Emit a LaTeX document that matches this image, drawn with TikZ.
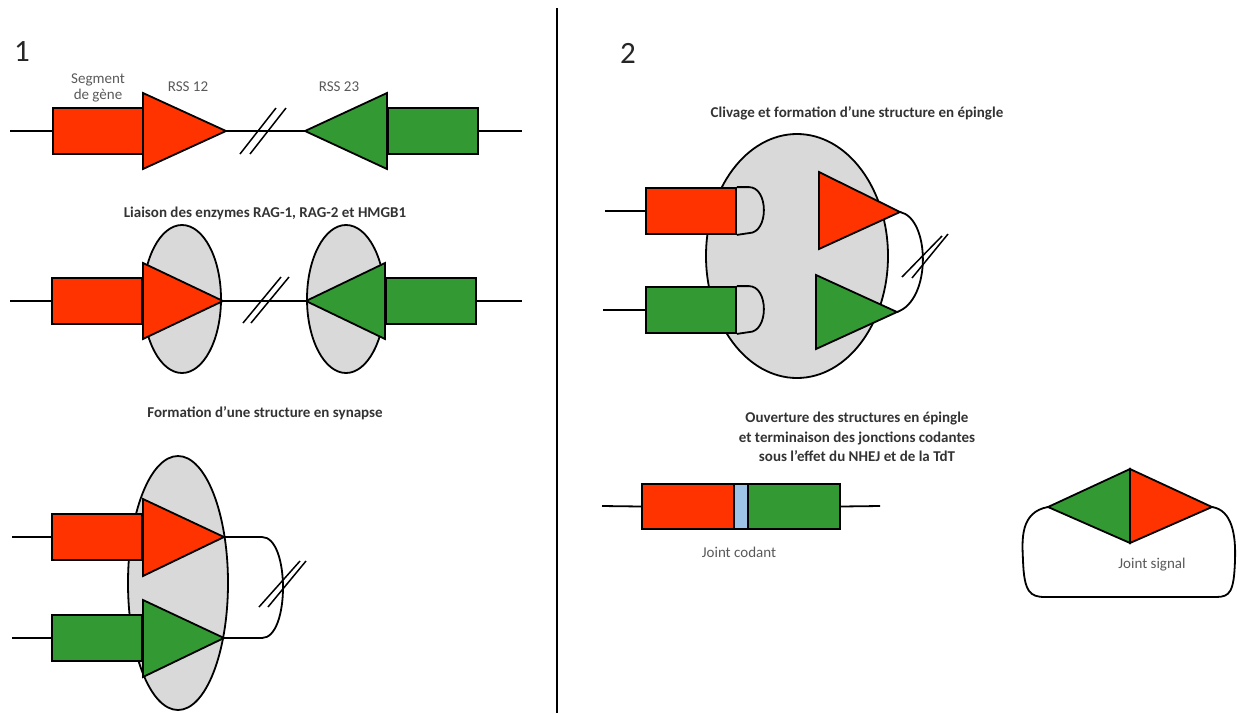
\documentclass[tikz,border=0pt]{standalone}
\usepackage{fontspec}
\setmainfont{Carlito}
\usetikzlibrary{shapes.geometric}

\definecolor{genred}{HTML}{FF3300}
\definecolor{gengreen}{HTML}{339933}
\definecolor{ragfill}{HTML}{D9D9D9}
\definecolor{jointblue}{HTML}{9DC3E6}
\definecolor{labelgray}{HTML}{595959}

\tikzstyle{dna} = [line width=1.8pt]
\tikzstyle{seg} = [draw, line width=1.8pt, inner sep=0pt, minimum width=90pt, minimum height=46pt]
\tikzstyle{rss} = [draw, line width=1.8pt, line join=miter]
\tikzstyle{rag} = [draw, ellipse, fill=ragfill, line width=1.8pt, inner sep=0pt]
\tikzstyle{brk} = [line width=1.5pt]
\tikzstyle{lbl} = [text=labelgray, font=\fontsize{15}{16}\selectfont, inner sep=0pt, align=center]
\tikzstyle{titre} = [text=black!80, font=\bfseries\fontsize{15}{19.5}\selectfont, inner sep=0pt, align=center]
\tikzstyle{num} = [text=black!85, font=\fontsize{31}{31}\selectfont, inner sep=0pt]

\begin{document}
\begin{tikzpicture}[x=1pt, y=-1pt]
    \useasboundingbox (0,0) rectangle (1237,713);
    \draw[line width=2.5pt] (557,8) -- (557,713);

    % 1
    \node[num] (N1) at (22,52) {1};
    \node[lbl] (Lseg) at (98,88) {Segment\\de gène};
    \node[lbl] (Lrss12) at (188,87) {RSS 12};
    \node[lbl] (Lrss23) at (339,87) {RSS 23};
    \coordinate (A1) at (10,131);
    \coordinate (B1) at (522,131);
    \node[seg, fill=genred] (R1) at (98,131) {};
    \node[seg, fill=gengreen] (G1) at (433,131) {};
    \draw[rss, fill=genred] (143,93) -- (143,169) -- (226,131) coordinate (P1) -- cycle;
    \draw[rss, fill=gengreen] (387,93) -- (387,169) -- (305,131) coordinate (Q1) -- cycle;
    \draw[dna] (A1) -- (R1.west);
    \draw[dna] (P1) -- (Q1);
    \draw[dna] (G1.east) -- (B1);
    \draw[brk] (240,154) -- (276,108);
    \draw[brk] (250,154) -- (286,108);

    \node[titre] (T2) at (265,213) {Liaison des enzymes RAG-1, RAG-2 et HMGB1};
    \coordinate (A2) at (10,301);
    \coordinate (B2) at (522,301);
    \node[rag, minimum width=78pt, minimum height=148pt] (E2a) at (182,299) {};
    \node[rag, minimum width=78pt, minimum height=148pt] (E2b) at (346,299) {};
    \node[seg, fill=genred] (R2) at (97,301) {};
    \node[seg, fill=gengreen] (G2) at (431,301) {};
    \draw[rss, fill=genred] (143,263) -- (143,339) -- (223,301) coordinate (P2) -- cycle;
    \draw[rss, fill=gengreen] (385,263) -- (385,339) -- (306,301) coordinate (Q2) -- cycle;
    \draw[dna] (A2) -- (R2.west);
    \draw[dna] (P2) -- (Q2);
    \draw[dna] (G2.east) -- (B2);
    \draw[brk] (243,323) -- (281,277);
    \draw[brk] (251,323) -- (289,277);

    \node[titre] (T3) at (265,413) {Formation d’une structure en synapse};
    \coordinate (A3) at (12,537);
    \coordinate (B3) at (12,638);
    \node[rag, minimum width=100pt, minimum height=254pt] (E3) at (178,583) {};
    \node[seg, fill=genred] (R3) at (97,537) {};
    \node[seg, fill=gengreen] (G3) at (97,638) {};
    \draw[rss, fill=genred] (143,499) -- (143,576) -- (224,537) coordinate (P3) -- cycle;
    \draw[rss, fill=gengreen] (143,600) -- (143,677) -- (224,638) coordinate (Q3) -- cycle;
    \draw[dna] (A3) -- (R3.west);
    \draw[dna] (B3) -- (G3.west);
    \draw[dna] (P3) -- (262,537) .. controls (290,537) and (290,638) .. (262,638) -- (Q3);
    \draw[brk] (259,607) -- (300,561);
    \draw[brk] (268,607) -- (306,561);

    % 2
    \node[num] (N2) at (628,53) {2};
    \node[titre] (T4) at (857,113) {Clivage et formation d’une structure en épingle};
    \coordinate (A4) at (605,211);
    \coordinate (B4) at (603,310);
    \node[rag, minimum width=182pt, minimum height=244pt] (E4) at (797,256) {};
    \node[seg, fill=genred] (R4) at (691,211) {};
    \node[seg, fill=gengreen] (G4) at (691,310) {};
    \draw[dna] (R4.north east) -- ++(12,0) .. controls ++(20,0) and ++(20,0) .. ++(0,46) -- (R4.south east);
    \draw[dna] (G4.north east) -- ++(12,0) .. controls ++(20,0) and ++(20,0) .. ++(0,46) -- (G4.south east);
    \draw[dna] (A4) -- (R4.west);
    \draw[dna] (B4) -- (G4.west);
    \draw[rss, fill=genred] (819,172) -- (819,249) -- (900,212) coordinate (P4) -- cycle;
    \draw[rss, fill=gengreen] (816,275) -- (816,349) -- (897,312) coordinate (Q4) -- cycle;
    \draw[dna] (P4) .. controls (930,218) and (932,300) .. (Q4);
    \draw[brk] (902,277) -- (942,236);
    \draw[brk] (912,278) -- (948,234);

    \node[titre] (T5) at (857,437) {Ouverture des structures en épingle\\et terminaison des jonctions codantes\\sous l’effet du NHEJ et de la TdT};
    \coordinate (A5) at (602,506);
    \coordinate (B5) at (880,506);
    \node[seg, fill=genred, minimum width=92pt, minimum height=45pt] (R5) at (688,506.5) {};
    \node[seg, fill=jointblue, minimum width=14pt, minimum height=45pt] (J5) at (741,506.5) {};
    \node[seg, fill=gengreen, minimum width=92pt, minimum height=45pt] (G5) at (794,506.5) {};
    \draw[dna] (A5) -- (R5.west);
    \draw[dna] (G5.east) -- (B5);
    \node[lbl] (Lcod) at (739,552) {Joint codant};

    \coordinate (Dt) at (1130,469);
    \coordinate (Dl) at (1048,507);
    \coordinate (Db) at (1130,543);
    \coordinate (Dr) at (1212,507);
    \draw[rss, fill=gengreen] (Dt) -- (Dl) -- (Db) -- cycle;
    \draw[rss, fill=genred] (Dt) -- (Dr) -- (Db) -- cycle;
    \draw[dna] (Dl) .. controls (1020,512) and (1022,540) .. (1023,560) .. controls (1024,592) and (1030,597) .. (1045,597) -- (1216,597) .. controls (1230,597) and (1234,592) .. (1235,560) .. controls (1236,535) and (1232,510) .. (Dr);
    \node[lbl] (Lsig) at (1152,565) {Joint signal};
\end{tikzpicture}
\end{document}
